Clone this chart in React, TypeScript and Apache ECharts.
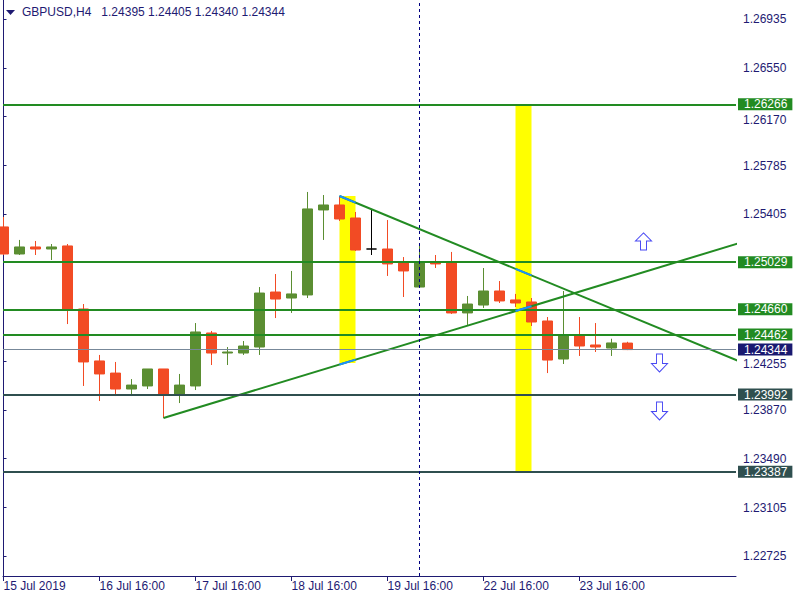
import React, { useEffect, useRef } from "react";
import * as echarts from "echarts";

// ---- Data (GBPUSD, H4) ----
const barIndex = [
  0, 1, 2, 3, 4, 5, 6, 7, 8, 9, 10, 11, 12, 13, 14, 15, 16, 17, 18, 19,
  20, 21, 22, 23, 24, 25, 26, 27, 28, 29, 30, 31, 32, 33, 34, 35, 36, 37, 38, 39,
];
const opens = [
  1.25305, 1.25093, 1.25148, 1.25132, 1.25156, 1.24662, 1.24255, 1.2416, 1.24035, 1.24059,
  1.24192, 1.23996, 1.24059, 1.24474, 1.24317, 1.24317, 1.24364, 1.24795, 1.24748, 1.24772,
  1.25438, 1.25477, 1.25375, 1.25132, 1.25132, 1.25022, 1.24834, 1.25022, 1.25022, 1.24631,
  1.24693, 1.24803, 1.24733, 1.24717, 1.24568, 1.2427, 1.24458, 1.2438, 1.24356, 1.24395,
];
const closes = [
  1.25093, 1.25148, 1.25132, 1.25148, 1.24654, 1.24247, 1.24153, 1.24035, 1.24066, 1.24192,
  1.23996, 1.24066, 1.24482, 1.24317, 1.24325, 1.24372, 1.24787, 1.2474, 1.2478, 1.25446,
  1.25477, 1.25367, 1.25124, 1.25132, 1.25015, 1.2496, 1.25022, 1.25015, 1.24631, 1.24701,
  1.24803, 1.24725, 1.24709, 1.2456, 1.24262, 1.24458, 1.24372, 1.24364, 1.24396, 1.24344,
];
const lows = [
  1.25085, 1.25085, 1.25085, 1.25046, 1.24544, 1.24059, 1.23941, 1.2398, 1.2398, 1.24035,
  1.23808, 1.23925, 1.24027, 1.24223, 1.24223, 1.24302, 1.24302, 1.24591, 1.24631, 1.24748,
  1.25203, 1.25352, 1.25117, 1.25085, 1.24921, 1.24756, 1.2483, 1.24983, 1.24623, 1.24537,
  1.2467, 1.24709, 1.24678, 1.24529, 1.2416, 1.24231, 1.24294, 1.24325, 1.24294, 1.2434,
];
const highs = [
  1.25383, 1.25203, 1.25195, 1.25171, 1.25171, 1.24701, 1.24302, 1.24247, 1.24113, 1.24192,
  1.24192, 1.24153, 1.24552, 1.2449, 1.24364, 1.24411, 1.24834, 1.24936, 1.2496, 1.25579,
  1.25555, 1.25547, 1.25422, 1.25446, 1.25359, 1.25069, 1.25164, 1.25085, 1.25109, 1.24764,
  1.24983, 1.24881, 1.2478, 1.24748, 1.24599, 1.24803, 1.24599, 1.24552, 1.24429, 1.24405,
];
const dojiBars = [23];

const xTickBars = [0, 6, 12, 18, 24, 30, 36];
const xTickLabels = [
  "15 Jul 2019", "16 Jul 16:00", "17 Jul 16:00", "18 Jul 16:00",
  "19 Jul 16:00", "22 Jul 16:00", "23 Jul 16:00",
];
const yTickValues = [
  1.22725, 1.23105, 1.2349, 1.2387, 1.24255, 1.25405, 1.25785, 1.2617, 1.2655, 1.26935,
];
// tick labels partly hidden under price tags in the original; nudged slightly down
const yNudgedTicks = [1.24255, 1.2617];

const levelValues = [1.26266, 1.25029, 1.2466, 1.24462, 1.23992, 1.23387];
const levelKinds = ["res", "res", "res", "res", "sup", "sup"];
const bidPrice = 1.24344;
const markerBar = 26;

// trend lines: [bar, price] pairs
const upperTrend = [[21, 1.25547], [46, 1.24251]];
const lowerTrend = [[10, 1.23808], [46, 1.25179]];

// highlight rectangles: [barFrom, priceTop, barTo, priceBottom]
const zones = [
  [21, 1.25547, 22, 1.24239],
  [32, 1.26266, 33, 1.23387],
];

const upArrows = [[40, 1.25191]];
const downArrows = [[41, 1.24239], [41, 1.23863]];

const headerText = "GBPUSD,H4\u00a0\u00a0 1.24395 1.24405 1.24340 1.24344";

// ---- Styles ----
const NAVY = "#1E1A72";
const GREEN_LINE = "#228B22";
const SLATE = "#2F4F4F";
const BULL = "#5B8E32";
const BEAR = "#F24B24";
const YELLOW = "#FFFF00";
const BLUE_OVER = "#1E90FF";
const FONT = "'Liberation Sans', Arial, sans-serif";

const Y_MAX = 1.27083;
const Y_MIN = 1.2257;
const X_MIN = -0.03125;
const X_MAX = 45.78125;

function trendAt(line: number[][], k: number) {
  const [a, b] = line;
  return a[1] + ((b[1] - a[1]) * (k - a[0])) / (b[0] - a[0]);
}

export default function App() {
  const ref = useRef<HTMLDivElement>(null);

  useEffect(() => {
    if (!ref.current) return;
    const chart = echarts.init(ref.current, null, { renderer: "svg" });

    const candleData = barIndex.map((k, i) => {
      const item: any = { value: [k, opens[i], closes[i], lows[i], highs[i]] };
      if (dojiBars.includes(k)) {
        item.itemStyle = { color: "#000", color0: "#000", borderColor: "#000", borderColor0: "#000" };
      }
      return item;
    });

    const levelColor = (kind: string) => (kind === "res" ? GREEN_LINE : SLATE);

    const tagLabel = (bg: string, val: number) => ({
      show: true,
      position: "end",
      distance: 2,
      formatter: () => val.toFixed(5),
      color: "#fff",
      backgroundColor: bg,
      fontSize: 12,
      fontFamily: FONT,
      lineHeight: 12,
      padding: [0, 5, 0, 6],
    });

    const levelMarks: any[] = levelValues.map((v, i) => ({
      yAxis: v,
      lineStyle: { color: levelColor(levelKinds[i]), width: 2, type: "solid" },
      label: tagLabel(levelColor(levelKinds[i]), v),
    }));
    levelMarks.push({
      yAxis: bidPrice,
      lineStyle: { color: "#778899", width: 1, type: "solid" },
      label: tagLabel("#191970", bidPrice),
    });
    levelMarks.push({
      xAxis: markerBar,
      lineStyle: { color: "#000080", width: 1, type: [3, 3] },
      label: { show: false },
    });

    const overlaySegs: any[] = [];
    zones.forEach((z) => {
      [upperTrend, lowerTrend].forEach((tl) => {
        overlaySegs.push([
          [z[0], trendAt(tl, z[0])],
          [z[2], trendAt(tl, z[2])],
        ]);
      });
    });

    const option: any = {
      animation: false,
      backgroundColor: "#ffffff",
      textStyle: { fontFamily: FONT },
      grid: { left: 3, right: 64, top: 0, bottom: 24, containLabel: false },
      xAxis: {
        type: "value",
        min: X_MIN,
        max: X_MAX,
        splitLine: { show: false },
        axisLine: { show: true, lineStyle: { color: NAVY, width: 1 } },
        axisTick: { show: true, length: 5, customValues: xTickBars, lineStyle: { color: NAVY } },
        axisLabel: {
          customValues: xTickBars,
          formatter: (v: number) => {
            const idx = xTickBars.indexOf(Math.round(v));
            return idx >= 0 ? xTickLabels[idx] : "";
          },
          align: "left",
          margin: 4,
          color: NAVY,
          fontSize: 12,
          fontFamily: FONT,
        },
      },
      yAxis: [
        {
          type: "value",
          position: "right",
          min: Y_MIN,
          max: Y_MAX,
          splitLine: { show: false },
          axisLine: { show: true, lineStyle: { color: NAVY, width: 1 } },
          axisTick: { show: true, length: 3, customValues: yTickValues, lineStyle: { color: NAVY } },
          axisLabel: {
            customValues: yTickValues,
            formatter: (v: number) => {
              const s = v.toFixed(5);
              return yNudgedTicks.some((t) => Math.abs(t - v) < 1e-7) ? `{low|${s}}` : s;
            },
            rich: {
              low: {
                padding: [7, 0, 0, 0],
                color: NAVY,
                fontSize: 12,
                lineHeight: 11,
                fontFamily: FONT,
              },
            },
            margin: 7,
            color: NAVY,
            fontSize: 12,
            lineHeight: 11,
            fontFamily: FONT,
          },
        },
        {
          type: "value",
          position: "left",
          min: Y_MIN,
          max: Y_MAX,
          splitLine: { show: false },
          axisLine: { show: true, lineStyle: { color: NAVY, width: 1 } },
          axisTick: { show: false },
          axisLabel: { show: false },
        },
      ],
      graphic: [
        {
          type: "polygon",
          shape: { points: [[6, 10], [15, 10], [10.5, 15]] },
          style: { fill: NAVY },
          z: 100,
        },
        {
          type: "text",
          x: 22,
          y: 6,
          z: 100,
          style: { text: headerText, fill: NAVY, font: `12px ${FONT}` },
        },
      ],
      series: [
        {
          name: "zones",
          type: "line",
          data: [],
          z: 1,
          markArea: {
            silent: true,
            precision: 5,
            itemStyle: { color: YELLOW, opacity: 1 },
            data: zones.map((z) => [{ coord: [z[0], z[1]] }, { coord: [z[2], z[3]] }]),
          },
        },
        {
          name: "GBPUSD",
          type: "candlestick",
          z: 2,
          clip: true,
          barWidth: 10,
          encode: { x: 0, y: [1, 2, 3, 4] },
          itemStyle: {
            color: BULL,
            color0: BEAR,
            borderColor: BULL,
            borderColor0: BEAR,
            borderWidth: 1,
          },
          data: candleData,
        },
        {
          name: "levels",
          type: "line",
          data: [],
          z: 3,
          markLine: {
            silent: true,
            precision: 5,
            symbol: ["none", "none"],
            data: levelMarks,
          },
        },
        {
          name: "upper",
          type: "line",
          z: 4,
          clip: true,
          symbol: "none",
          lineStyle: { color: GREEN_LINE, width: 2 },
          data: upperTrend,
        },
        {
          name: "lower",
          type: "line",
          z: 4,
          clip: true,
          symbol: "none",
          lineStyle: { color: GREEN_LINE, width: 2 },
          data: lowerTrend,
        },
        ...overlaySegs.map((seg, i) => ({
          name: "overlay" + i,
          type: "line",
          z: 5,
          symbol: "none",
          lineStyle: { color: BLUE_OVER, width: 2 },
          data: seg,
        })),
        {
          name: "up",
          type: "scatter",
          z: 6,
          symbol: "path://M8,0L16,8L11,8L11,17L5,17L5,8L0,8Z",
          symbolSize: [16, 17],
          itemStyle: { color: "#ffffff", borderColor: "#1A1AF0", borderWidth: 1 },
          data: upArrows,
        },
        {
          name: "down",
          type: "scatter",
          z: 6,
          symbol: "path://M5,0L11,0L11,9L16,9L8,17L0,9L5,9Z",
          symbolSize: [16, 18],
          itemStyle: { color: "#ffffff", borderColor: "#1A1AF0", borderWidth: 1 },
          data: downArrows,
        },
      ],
    };

    chart.setOption(option);
    return () => chart.dispose();
  }, []);

  return (
    <div
      ref={ref}
      style={{ position: "fixed", left: 0, top: 0, width: 800, height: 600, background: "#fff" }}
    />
  );
}
